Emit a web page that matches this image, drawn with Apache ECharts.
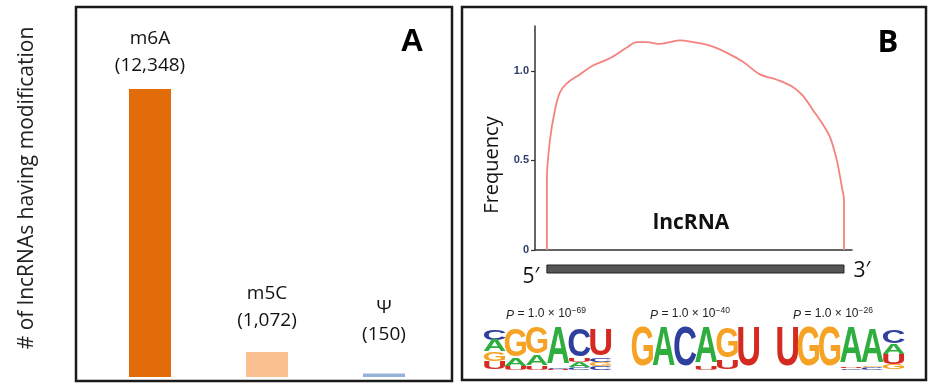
<!DOCTYPE html>
<html><head><meta charset="utf-8">
<script src="https://cdn.jsdelivr.net/npm/echarts@6/dist/echarts.min.js"></script>
<style>html,body{margin:0;padding:0;background:#fff}#c{width:929px;height:385px}</style>
</head><body><div id="c"></div>
<script>
// ---- Panel A data ----
const modNames = ['m6A', 'm5C', 'Ψ'];
const modCounts = [12348, 1072, 150];
const barColors = ['#E36C0A', '#FAC090', '#95B3D7'];
const labelGaps = [10, 18, 25];

// ---- Panel B data (relative position along lncRNA, 5' = 0, 3' = 1) ----
const curvePos  = [0, 0, 0.010, 0.027, 0.044, 0.067, 0.111, 0.155, 0.212, 0.269, 0.303, 0.337, 0.380, 0.414, 0.448, 0.492, 0.549, 0.606, 0.660, 0.717, 0.774, 0.828, 0.862, 0.896, 0.929, 0.953, 0.976, 0.993, 1.0, 1.0];
const curveFreq = [0, 0.39, 0.61, 0.78, 0.88, 0.93, 0.98, 1.03, 1.07, 1.13, 1.16, 1.16, 1.15, 1.16, 1.17, 1.16, 1.14, 1.10, 1.05, 0.98, 0.95, 0.91, 0.86, 0.78, 0.70, 0.63, 0.50, 0.35, 0.28, 0];
const freqTicks = [0, 0.5, 1.0];
const freqTickLabels = ['0', '0.5', '1.0'];

// ---- Motif logos: columns listed top -> bottom as [letter, fraction of logo height] ----
const motifExponents = ['69', '40', '26'];
const motif1 = [
  [['C', .25], ['A', .27], ['G', .22], ['U', .20]],
  [['G', .66], ['A', .18], ['U', .08]],
  [['G', .64], ['A', .24], ['U', .08]],
  [['A', .90], ['C', .03], ['U', .03]],
  [['C', .66], ['U', .08], ['A', .12], ['C', .06]],
  [['U', .64], ['C', .10], ['G', .10], ['C', .08]]
];
const motif2 = [
  [['G', .96]],
  [['A', .96]],
  [['C', .96]],
  [['A', .86], ['U', .08]],
  [['G', .72], ['U', .22]],
  [['U', .96]]
];
const motif3 = [
  [['U', .96]],
  [['G', .94]],
  [['G', .94]],
  [['A', .86], ['U', .04], ['C', .04]],
  [['A', .84], ['G', .04], ['C', .06]],
  [['C', .30], ['A', .24], ['U', .24], ['G', .12]]
];
const letterColors = { A: '#2EAE3E', C: '#2F3F9E', G: '#F5A225', U: '#D42A22' };
const letterWidthEm = { A: 0.64, C: 0.62, G: 0.66, U: 0.60 };

const chart = echarts.init(document.getElementById('c'), null, { renderer: 'canvas' });
const FONT = '"Open Sans", "Noto Sans", sans-serif';

const curveData = curvePos.map((p, i) => [p, curveFreq[i]]);

chart.setOption({
  animation: false,
  backgroundColor: '#ffffff',
  grid: [
    { left: 91.5, right: 486.5, top: 89, bottom: 8 },
    { left: 535, right: 77, top: 26, bottom: 135 }
  ],
  xAxis: [
    { gridIndex: 0, type: 'category', data: modNames, show: false },
    { gridIndex: 1, type: 'value', min: -0.04, max: 1.027,
      axisLine: { show: true, onZero: false, lineStyle: { color: '#333', width: 1.5 } },
      axisTick: { show: false }, axisLabel: { show: false }, splitLine: { show: false } }
  ],
  yAxis: [
    { gridIndex: 0, type: 'value', min: 0, max: 12348, show: false },
    { gridIndex: 1, type: 'value', min: 0, max: 1.25,
      axisLine: { show: true, onZero: false, lineStyle: { color: '#333', width: 1.5 } },
      axisTick: { show: true, length: 4, customValues: freqTicks, lineStyle: { color: '#333', width: 1.2 } },
      axisLabel: { show: true, customValues: freqTicks, margin: 6,
        formatter: v => freqTickLabels[freqTicks.indexOf(v)] ?? '',
        color: '#2E3C6E', fontSize: 11, fontWeight: 'bold', fontFamily: '"Liberation Sans", Arial, sans-serif' },
      splitLine: { show: false } }
  ],
  series: [
    {
      type: 'bar', xAxisIndex: 0, yAxisIndex: 0, barWidth: 42,
      data: modCounts.map((v, i) => ({
        value: v,
        itemStyle: { color: barColors[i] },
        label: { distance: labelGaps[i] }
      })),
      label: {
        show: true, position: 'top',
        formatter: p => '{n|' + modNames[p.dataIndex] + '}\n{c|(' + modCounts[p.dataIndex].toLocaleString('en-US') + ')}',
        rich: {
          n: { fontSize: 19, fontFamily: FONT, color: '#111', lineHeight: 27 },
          c: { fontSize: 19, fontFamily: FONT, color: '#111', lineHeight: 27 }
        }
      }
    },
    {
      type: 'line', xAxisIndex: 1, yAxisIndex: 1, data: curveData,
      smooth: 0.35, showSymbol: false,
      lineStyle: { color: '#F4837F', width: 1.8 }
    }
  ]
});

// ---- annotation graphics ----
const g = [];
// panel borders
g.push({ type: 'rect', shape: { x: 76, y: 7, width: 376, height: 374 }, style: { fill: 'none', stroke: '#1a1a1a', lineWidth: 2.5 }, z: 10 });
g.push({ type: 'rect', shape: { x: 462, y: 7, width: 464, height: 373 }, style: { fill: 'none', stroke: '#1a1a1a', lineWidth: 2.5 }, z: 10 });
// panel letters
g.push({ type: 'text', x: 412, y: 42, style: { text: 'A', font: 'bold 32px "Liberation Sans", Arial', fill: '#000', align: 'center', verticalAlign: 'middle' } });
g.push({ type: 'text', x: 888, y: 43, style: { text: 'B', font: 'bold 31px "Open Sans", sans-serif', fill: '#000', align: 'center', verticalAlign: 'middle' } });
// axis titles
g.push({ type: 'text', x: 27, y: 188, rotation: Math.PI / 2, style: { text: '# of lncRNAs having modification', font: '21px ' + FONT, fill: '#222', align: 'center', verticalAlign: 'middle' } });
g.push({ type: 'text', x: 492, y: 165, rotation: Math.PI / 2, style: { text: 'Frequency', font: '20px ' + FONT, fill: '#111', align: 'center', verticalAlign: 'middle' } });
g.push({ type: 'text', x: 691, y: 223, style: { text: 'lncRNA', font: 'bold 21px ' + FONT, fill: '#111', align: 'center', verticalAlign: 'middle' } });

// lncRNA gene bar placed through the panel-B x scale
const p0 = chart.convertToPixel({ xAxisIndex: 1, yAxisIndex: 1 }, [0, 0]);
const p1 = chart.convertToPixel({ xAxisIndex: 1, yAxisIndex: 1 }, [1, 0]);
g.push({ type: 'rect', shape: { x: p0[0], y: p0[1] + 15, width: p1[0] - p0[0], height: 8 }, style: { fill: '#555', stroke: '#222', lineWidth: 1 } });
g.push({ type: 'text', x: p0[0] - 16, y: p0[1] + 27, style: { text: '5′', font: '21px ' + FONT, fill: '#111', align: 'center', verticalAlign: 'middle' } });
g.push({ type: 'text', x: p1[0] + 18, y: p0[1] + 21, style: { text: '3′', font: '21px ' + FONT, fill: '#111', align: 'center', verticalAlign: 'middle' } });

// motif logos
const motifs = [motif1, motif2, motif3];
const motifLeft = [484, 632, 777];
const motifCenters = [546, 690, 833];
const colW = 21.2, logoBottom = 370, logoH = 42, F = 20, capEm = 0.72;
motifs.forEach((m, k) => {
  g.push({ type: 'text', x: motifCenters[k], y: 314, style: {
    text: '{i|P} = 1.0 × 10{s|−' + motifExponents[k] + '}',
    align: 'center', verticalAlign: 'middle',
    rich: {
      i: { font: 'italic 12px "Liberation Sans", Arial', fill: '#222', verticalAlign: 'bottom' },
      s: { font: '8.5px "Liberation Sans", Arial', fill: '#222', verticalAlign: 'top' }
    },
    font: '12px "Liberation Sans", Arial', fill: '#222', lineHeight: 16
  } });
  m.forEach((col, j) => {
    const total = col.reduce((s, c) => s + c[1], 0);
    let top = logoBottom - total * logoH;
    col.forEach(([L, f]) => {
      const h = f * logoH;
      const sy = h / (F * capEm);
      const sx = (colW - 0.5) / (F * letterWidthEm[L]);
      g.push({ type: 'text', x: motifLeft[k] + colW * j + colW / 2, y: top + h / 2,
        scaleX: sx, scaleY: sy,
        style: { text: L, font: 'bold 20px "Liberation Sans", Arial', fill: letterColors[L], align: 'center', verticalAlign: 'middle' } });
      top += h;
    });
  });
});

chart.setOption({ graphic: g });
</script></body></html>
